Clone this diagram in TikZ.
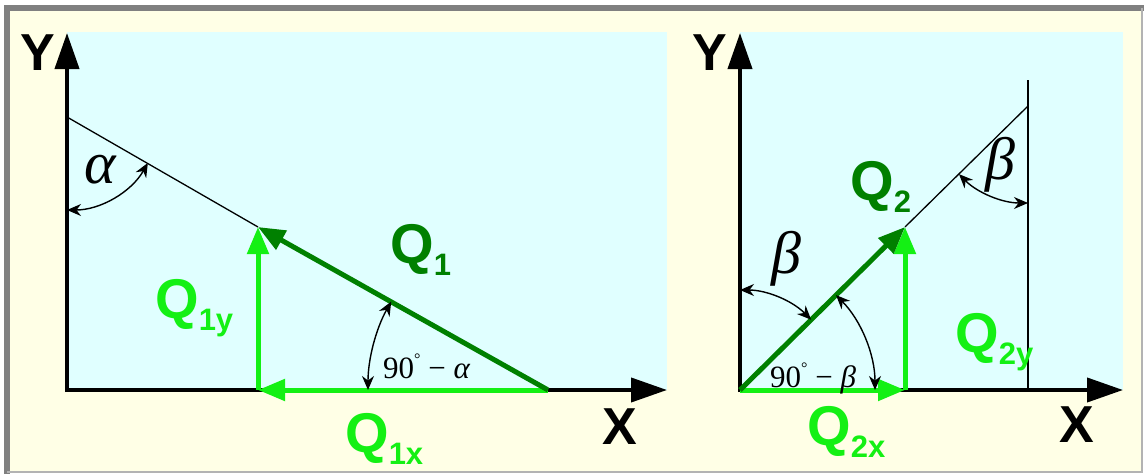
\documentclass[tikz,border=0pt]{standalone}
\usepackage{fontspec}
\newfontfamily\lab{Liberation Sans}
\newfontfamily\tms{Liberation Serif}
\usetikzlibrary{arrows.meta,calc}
\definecolor{dkgreen}{RGB}{0,128,0}
\definecolor{ltgreen}{RGB}{20,240,20}
\definecolor{panel}{RGB}{224,255,255}
\definecolor{paper}{RGB}{255,255,230}
\definecolor{frame}{RGB}{128,128,128}
\newcommand\Qlbl[1]{Q\raisebox{-12pt}{\fontsize{31}{31}\selectfont #1}}
\newcommand\degr{\raisebox{0.45em}{\fontsize{16}{16}\selectfont °}}
\tikzset{
  qlab/.style={font=\lab\bfseries\fontsize{56}{56}\selectfont, inner sep=0pt, anchor=base west},
  axlab/.style={font=\lab\bfseries\fontsize{52}{52}\selectfont, inner sep=0pt},
  axis/.style={line width=4pt, -{Triangle[length=36pt,width=24pt]}},
  vecdk/.style={draw=dkgreen, line width=5pt, -{Triangle[length=27pt,width=21pt]}, fill=dkgreen},
  veclt/.style={draw=ltgreen, line width=5pt, -{Triangle[length=27pt,width=21pt]}, fill=ltgreen},
  thin/.style={line width=1.3pt},
  angarc/.style={line width=1.4pt, {Stealth[length=14pt,width=12pt]}-{Stealth[length=14pt,width=12pt]}},
  anglab/.style={inner sep=0pt, font=\tms\itshape\fontsize{60}{60}\selectfont},
  deglab/.style={inner sep=0pt, font=\tms\fontsize{31}{31}\selectfont},
}
\begin{document}
\begin{tikzpicture}[x=1pt,y=-1pt]
\useasboundingbox (0,0) rectangle (1144,474);
% frame
\fill[white] (0,0) rectangle (1144,474);
\fill[paper] (5,6) rectangle (1141,472);
\draw[frame, line width=6pt] (7,474) -- (7,8) -- (1144,8);
\draw[frame!60, line width=2pt] (7,472) -- (1142,472) -- (1142,8);
% panels
\fill[panel] (67,32) rectangle (667,390);
\fill[panel] (740,32) rectangle (1123,390);
% ---------- left diagram ----------
\coordinate (O1) at (67,390);
\coordinate (Y1) at (67,33);
\coordinate (X1) at (667,390);
\coordinate (A) at (67,117);
\coordinate (B) at (548,390);
\coordinate (T1) at (258,227);
\coordinate (F1) at (258,390);
\draw[thin] (A) -- (T1);
\draw[axis] ($(O1)+(-2,0)$) -- (X1);
\draw[axis] ($(O1)+(0,2)$) -- (Y1);
\draw[veclt] (B) -- (F1);
\draw[veclt] (F1) -- (T1);
\draw[vecdk] (B) -- (T1);
\draw[angarc] ($(A)+(-90:93pt)$) arc[start angle=-90, end angle=-29.6, radius=93pt];
\draw[angarc] ($(B)+(150.6:180pt)$) arc[start angle=150.6, end angle=180, radius=180pt];
\node[anglab] (alpha) at (100,170) {α};
\node[deglab, anchor=base west] (d1) at (383,378) {90\degr\ − \textit{α}};
\node[axlab] (ylab1) at (38,53) {Y};
\node[axlab] (xlab1) at (620,427) {X};
\node[qlab, text=dkgreen] (q1) at (390,263) {\Qlbl{1}};
\node[qlab, text=ltgreen] (q1y) at (155,318) {\Qlbl{1y}};
\node[qlab, text=ltgreen] (q1x) at (345,452) {\Qlbl{1x}};
% ---------- right diagram ----------
\coordinate (O2) at (740,390);
\coordinate (Y2) at (740,33);
\coordinate (X2) at (1123,390);
\coordinate (T2) at (905,227);
\coordinate (F2) at (905,390);
\coordinate (C) at (1028,106);
\coordinate (Vt) at (1028,80);
\coordinate (Vb) at (1028,390);
\draw[thin] (T2) -- (C);
\draw[thin] (Vt) -- (Vb);
\draw[axis] (O2) -- (X2);
\draw[axis] ($(O2)+(0,2)$) -- (Y2);
\draw[veclt] (O2) -- (F2);
\draw[veclt] (F2) -- (T2);
\draw[vecdk] (O2) -- (T2);
\draw[angarc] ($(O2)+(44.65:100pt)$) arc[start angle=44.65, end angle=90, radius=100pt];
\draw[angarc] ($(O2)+(0:135pt)$) arc[start angle=0, end angle=44.65, radius=135pt];
\draw[angarc] ($(C)+(-135.35:97pt)$) arc[start angle=-135.35, end angle=-90, radius=97pt];
\node[anglab] (beta1) at (786,259) {β};
\node[anglab] (beta2) at (1000,165) {β};
\node[deglab, anchor=base west] (d2) at (770,387) {90\degr\ − \textit{β}};
\node[axlab] (ylab2) at (710,53) {Y};
\node[axlab] (xlab2) at (1077,425) {X};
\node[qlab, text=dkgreen] (q2) at (850,200) {\Qlbl{2}};
\node[qlab, text=ltgreen] (q2y) at (955,352) {\Qlbl{2y}};
\node[qlab, text=ltgreen] (q2x) at (807,445) {\Qlbl{2x}};
\end{tikzpicture}
\end{document}
